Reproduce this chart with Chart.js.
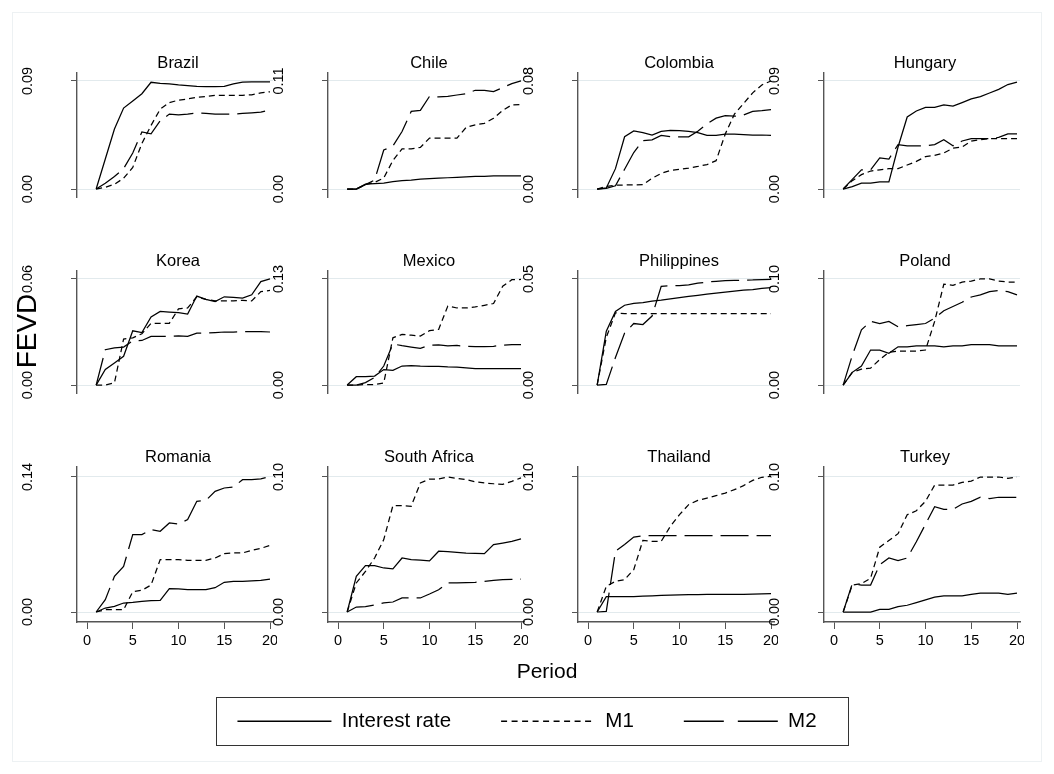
<!DOCTYPE html>
<html>
<head>
<meta charset="utf-8">
<script src="https://cdn.jsdelivr.net/npm/chart.js@4.4.0/dist/chart.umd.min.js"></script>
<style>
  html, body { margin: 0; padding: 0; background: #fff; }
  #wrap { position: relative; width: 1054px; height: 774px; overflow: hidden; background: #fff; }
  #wrap canvas { position: absolute; }
</style>
</head>
<body>
<div id="wrap"></div>
<script>
// ---- data -------------------------------------------------------------
const periods = [1, 2, 3, 4, 5, 6, 7, 8, 9, 10, 11, 12, 13, 14, 15, 16, 17, 18, 19, 20];
const countries = ['Brazil', 'Chile', 'Colombia', 'Hungary',
                   'Korea', 'Mexico', 'Philippines', 'Poland',
                   'Romania', 'South Africa', 'Thailand', 'Turkey'];
// upper labelled tick of each panel's y axis
const yTopTick = [0.09, 0.11, 0.08, 0.09, 0.06, 0.13, 0.05, 0.10, 0.14, 0.10, 0.10, 0.10];
const xTicks = [0, 5, 10, 15, 20];
const seriesNames = ['Interest rate', 'M1', 'M2'];

// share of forecast error variance explained by the interest rate
const interestRate = [
  [0, 0.025, 0.050, 0.0674, 0.0734, 0.0794, 0.0889, 0.0880, 0.0875, 0.0867, 0.0862, 0.0855, 0.0852, 0.0853, 0.0855, 0.0875, 0.0890, 0.0893, 0.0893, 0.0893], // Brazil
  [0, 0, 0.005, 0.0055, 0.006, 0.0075, 0.0085, 0.009, 0.010, 0.0105, 0.011, 0.0115, 0.012, 0.0125, 0.013, 0.013, 0.0135, 0.0135, 0.0135, 0.0135],             // Chile
  [0, 0.0008, 0.0151, 0.0387, 0.043, 0.0417, 0.040, 0.0427, 0.0434, 0.0432, 0.0427, 0.0417, 0.0397, 0.0397, 0.0407, 0.0407, 0.0403, 0.040, 0.040, 0.0397], // Colombia
  [0, 0.002, 0.005, 0.005, 0.006, 0.006, 0.035, 0.060, 0.065, 0.068, 0.068, 0.070, 0.069, 0.072, 0.075, 0.077, 0.080, 0.083, 0.087, 0.089],                // Hungary
  [0, 0.0088, 0.0125, 0.0163, 0.0307, 0.0297, 0.0385, 0.0416, 0.0412, 0.0409, 0.0401, 0.0503, 0.0484, 0.0472, 0.0499, 0.0496, 0.0492, 0.051, 0.0585, 0.060], // Korea
  [0, 0.0103, 0.0103, 0.011, 0.019, 0.018, 0.0233, 0.0239, 0.0233, 0.023, 0.023, 0.0223, 0.022, 0.021, 0.020, 0.020, 0.020, 0.0203, 0.0203, 0.0203],        // Mexico
  [0, 0.0254, 0.0347, 0.0376, 0.0385, 0.0388, 0.0395, 0.040, 0.0406, 0.0412, 0.0418, 0.0423, 0.0428, 0.0433, 0.0438, 0.0443, 0.0447, 0.045, 0.0455, 0.0459], // Philippines
  [0, 0.012, 0.018, 0.033, 0.033, 0.030, 0.036, 0.036, 0.037, 0.037, 0.037, 0.036, 0.037, 0.037, 0.038, 0.038, 0.038, 0.037, 0.037, 0.037],                // Poland
  [0, 0.0041, 0.0059, 0.0093, 0.010, 0.011, 0.0118, 0.0121, 0.0242, 0.0239, 0.0232, 0.0232, 0.0232, 0.0252, 0.0308, 0.0318, 0.0318, 0.0322, 0.0327, 0.0342], // Romania
  [0, 0.0264, 0.0343, 0.0343, 0.0326, 0.0319, 0.040, 0.0388, 0.0385, 0.0378, 0.045, 0.0447, 0.0442, 0.0437, 0.0435, 0.0432, 0.0499, 0.0511, 0.0523, 0.0541], // South Africa
  [0, 0.0113, 0.0113, 0.0113, 0.0113, 0.0118, 0.012, 0.0123, 0.0125, 0.0127, 0.0128, 0.0128, 0.013, 0.013, 0.013, 0.013, 0.013, 0.0133, 0.0135, 0.0136],   // Thailand
  [0, 0, 0, 0, 0.002, 0.002, 0.004, 0.005, 0.007, 0.009, 0.011, 0.012, 0.012, 0.012, 0.013, 0.014, 0.014, 0.014, 0.013, 0.014]                             // Turkey
];

// share explained by narrow money
const m1Share = [
  [0, 0.0015, 0.004, 0.009, 0.018, 0.038, 0.053, 0.0665, 0.072, 0.074, 0.075, 0.0765, 0.077, 0.078, 0.078, 0.078, 0.078, 0.0785, 0.080, 0.081],
  [0, 0, 0.0045, 0.0068, 0.0113, 0.029, 0.041, 0.041, 0.0424, 0.0519, 0.0519, 0.0519, 0.0519, 0.0627, 0.0654, 0.0668, 0.072, 0.080, 0.0857, 0.086],
  [0, 0.002, 0.0028, 0.003, 0.003, 0.0033, 0.0079, 0.0116, 0.0138, 0.0147, 0.0155, 0.0167, 0.0181, 0.021, 0.0407, 0.0554, 0.0633, 0.0712, 0.077, 0.080],
  [0, 0.007, 0.012, 0.015, 0.016, 0.017, 0.017, 0.020, 0.023, 0.027, 0.028, 0.030, 0.034, 0.035, 0.040, 0.041, 0.042, 0.042, 0.042, 0.042],
  [0, 0, 0.0013, 0.026, 0.0267, 0.029, 0.0349, 0.0349, 0.0349, 0.0431, 0.0436, 0.0499, 0.0484, 0.0476, 0.0476, 0.0476, 0.0479, 0.0476, 0.0528, 0.0535],
  [0, 0, 0.0006, 0.0006, 0.0026, 0.0579, 0.062, 0.0611, 0.060, 0.0666, 0.0682, 0.0967, 0.0944, 0.0944, 0.0957, 0.0977, 0.0999, 0.121, 0.129, 0.1293],
  [0, 0.0225, 0.034, 0.0337, 0.0337, 0.0337, 0.0337, 0.0337, 0.0337, 0.0337, 0.0337, 0.0337, 0.0337, 0.0337, 0.0337, 0.0337, 0.0337, 0.0337, 0.0337, 0.0337],
  [0, 0.012, 0.015, 0.016, 0.024, 0.031, 0.032, 0.032, 0.032, 0.033, 0.060, 0.095, 0.094, 0.097, 0.098, 0.100, 0.100, 0.098, 0.097, 0.097],
  [0, 0.0024, 0.0024, 0.0024, 0.021, 0.0225, 0.028, 0.0543, 0.0543, 0.0543, 0.0536, 0.0536, 0.0536, 0.056, 0.0605, 0.0612, 0.0612, 0.064, 0.066, 0.069],
  [0, 0.0215, 0.030, 0.040, 0.0536, 0.0788, 0.0788, 0.0783, 0.0956, 0.0985, 0.0985, 0.100, 0.099, 0.098, 0.0965, 0.0956, 0.095, 0.0946, 0.0968, 0.0993],
  [0, 0.019, 0.0227, 0.024, 0.0314, 0.0531, 0.0523, 0.0523, 0.0635, 0.0721, 0.0795, 0.0827, 0.0844, 0.0862, 0.0881, 0.0906, 0.0936, 0.0975, 0.0998, 0.1005],
  [0, 0.020, 0.021, 0.025, 0.048, 0.053, 0.058, 0.072, 0.075, 0.082, 0.094, 0.094, 0.094, 0.096, 0.097, 0.100, 0.100, 0.100, 0.099, 0.100]
];

// share explained by broad money
const m2Share = [
  [0, 0.0049, 0.0104, 0.017, 0.030, 0.0475, 0.046, 0.0568, 0.0624, 0.0617, 0.0624, 0.0635, 0.063, 0.0624, 0.0624, 0.0624, 0.063, 0.0635, 0.064, 0.066],
  [0, 0, 0.0045, 0.0091, 0.0397, 0.0438, 0.0586, 0.079, 0.080, 0.0943, 0.0938, 0.0943, 0.0957, 0.097, 0.1005, 0.1005, 0.0992, 0.1032, 0.1073, 0.110],
  [0, 0.0005, 0.0024, 0.0147, 0.027, 0.0358, 0.0364, 0.0397, 0.0387, 0.0387, 0.0387, 0.0427, 0.0482, 0.0525, 0.0544, 0.0539, 0.0548, 0.0574, 0.058, 0.0588],
  [0, 0.008, 0.016, 0.016, 0.026, 0.025, 0.037, 0.036, 0.036, 0.036, 0.037, 0.041, 0.036, 0.040, 0.042, 0.042, 0.042, 0.043, 0.046, 0.046],
  [0, 0.020, 0.021, 0.0215, 0.025, 0.0252, 0.0275, 0.0275, 0.0275, 0.0278, 0.0275, 0.0293, 0.0293, 0.0297, 0.030, 0.030, 0.0302, 0.0302, 0.0302, 0.030],
  [0, 0, 0.003, 0.0094, 0.0233, 0.0504, 0.0482, 0.0466, 0.045, 0.0488, 0.0492, 0.048, 0.0485, 0.0475, 0.047, 0.047, 0.0475, 0.049, 0.0495, 0.0495],
  [0, 0.0003, 0.013, 0.0245, 0.029, 0.0285, 0.0325, 0.0465, 0.0468, 0.0469, 0.0472, 0.048, 0.0485, 0.0489, 0.0492, 0.0493, 0.0494, 0.0495, 0.0497, 0.0498],
  [0, 0.028, 0.052, 0.060, 0.058, 0.060, 0.055, 0.056, 0.057, 0.058, 0.063, 0.070, 0.074, 0.078, 0.083, 0.085, 0.088, 0.089, 0.088, 0.085],
  [0, 0.0128, 0.037, 0.0473, 0.0802, 0.0802, 0.0854, 0.0837, 0.0923, 0.0913, 0.0958, 0.1148, 0.1158, 0.1251, 0.1286, 0.1296, 0.1372, 0.1372, 0.138, 0.1407],
  [0, 0.0037, 0.004, 0.0052, 0.0067, 0.0074, 0.0104, 0.0104, 0.0104, 0.0133, 0.0165, 0.0215, 0.0215, 0.0217, 0.022, 0.0227, 0.0235, 0.024, 0.0242, 0.0244],
  [0, 0.0005, 0.045, 0.050, 0.0555, 0.0565, 0.0565, 0.0565, 0.0565, 0.0565, 0.0565, 0.0565, 0.0565, 0.0565, 0.0565, 0.0565, 0.0565, 0.0565, 0.0565, 0.0565],
  [0, 0.021, 0.020, 0.020, 0.035, 0.040, 0.038, 0.040, 0.052, 0.065, 0.078, 0.076, 0.076, 0.080, 0.082, 0.085, 0.084, 0.085, 0.085, 0.085]
];

// ---- layout and style --------------------------------------------------
const FONT = '"Liberation Sans", Arial, Helvetica, sans-serif';
const INK = '#000000';
const AXIS = '#555555';
const GRID = '#e2eaed';
const seriesDash = [[], [6, 4], [28, 8]];     // dash patterns in the panels
const legendDash = [[], [6, 4.5], [40, 14]];  // same patterns, stretched for the key
const seriesData = [interestRate, m1Share, m2Share];

const colLeft = [77, 328, 578, 824];   // left edge of each column's plot region
const rowTopTick = [83, 281, 477];     // pixel row of the upper y tick
const rowZero = [219, 415, 612];       // pixel row of zero
const PX_PER_PERIOD = 9.15;
const PLOT_W = 196, AXIS_W = 62, TITLE_H = 24, PAD_R = 4, XAXIS_H = 32;

Chart.defaults.font.family = FONT;
Chart.defaults.color = INK;

const wrap = document.getElementById('wrap');
function addCanvas(left, top, w, h) {
  const cv = document.createElement('canvas');
  cv.width = w; cv.height = h;
  cv.style.left = left + 'px'; cv.style.top = top + 'px';
  cv.style.width = w + 'px'; cv.style.height = h + 'px';
  wrap.appendChild(cv);
  return cv;
}

// ---- shared frame with the axis titles ---------------------------------
const outerFrame = {
  id: 'outerFrame',
  beforeDraw(chart) {
    const ctx = chart.ctx;
    ctx.save();
    ctx.strokeStyle = '#edf1f3';
    ctx.lineWidth = 1;
    ctx.strokeRect(12.5, 12.5, chart.width - 25, chart.height - 25);
    ctx.restore();
  }
};

new Chart(addCanvas(0, 0, 1054, 774), {
  type: 'scatter',
  data: { datasets: [] },
  options: {
    responsive: false, animation: false, devicePixelRatio: 1,
    layout: { padding: { top: 40, right: 37, bottom: 0, left: 0 } },
    plugins: { legend: { display: false }, tooltip: { enabled: false } },
    scales: {
      x: {
        type: 'linear', min: 0, max: 1,
        ticks: { display: false }, grid: { display: false }, border: { display: false },
        title: { display: true, text: 'Period', color: INK, font: { size: 21 }, padding: { top: 0, bottom: 89 } },
        afterFit: s => { s.height = 774 - 622; }
      },
      y: {
        type: 'linear', min: 0, max: 1,
        ticks: { display: false }, grid: { display: false }, border: { display: false },
        title: { display: true, text: 'FEVD', color: INK, font: { size: 28 }, padding: { top: 11, bottom: 0 } },
        afterFit: s => { s.width = 77; }
      }
    }
  },
  plugins: [outerFrame]
});

// ---- one small panel per country ---------------------------------------
const shiftTitle = {
  id: 'shiftTitle',
  afterLayout(chart) {
    if (chart.titleBlock) { chart.titleBlock.left += 3; chart.titleBlock.right += 3; }
  }
};

countries.forEach((name, i) => {
  const r = Math.floor(i / 4), c = i % 4;
  const span = rowZero[r] - rowTopTick[r];
  const plotTop = rowTopTick[r] - 10, plotBottom = rowZero[r] + 10;
  const top = yTopTick[i];
  const margin = 10 / span * top;
  const bottomRow = r === 2;
  const h = TITLE_H + (plotBottom - plotTop) + (bottomRow ? XAXIS_H : 0);
  const cv = addCanvas(colLeft[c] - AXIS_W, plotTop - TITLE_H, AXIS_W + PLOT_W + PAD_R, h);

  new Chart(cv, {
    type: 'line',
    data: {
      datasets: seriesData.map((s, k) => ({
        label: seriesNames[k],
        data: periods.map((t, j) => ({ x: t, y: s[i][j] })),
        borderColor: INK, borderWidth: 1.25, borderDash: seriesDash[k],
        pointRadius: 0, tension: 0, fill: false
      }))
    },
    options: {
      responsive: false, animation: false, devicePixelRatio: 1,
      layout: { padding: { left: 0, right: PAD_R, top: 0, bottom: 0 } },
      plugins: {
        legend: { display: false }, tooltip: { enabled: false },
        title: {
          display: true, text: name, color: INK, fullSize: false,
          font: { size: 16.5, weight: 'normal', lineHeight: 1.2 },
          padding: { top: TITLE_H - 19.8, bottom: 0 }
        }
      },
      scales: {
        x: {
          type: 'linear', display: bottomRow,
          min: -10 / PX_PER_PERIOD, max: (PLOT_W - 10) / PX_PER_PERIOD,
          afterBuildTicks: s => { s.ticks = xTicks.map(v => ({ value: v })); },
          afterFit: s => { s.height = XAXIS_H; s.paddingLeft = 0; s.paddingRight = 0; },
          ticks: { callback: v => String(v), minRotation: 0, maxRotation: 0, autoSkip: false,
                   padding: 3, color: INK, font: { size: 14.5 } },
          grid: { drawOnChartArea: false, drawTicks: true, tickLength: 7, color: AXIS, tickColor: AXIS },
          border: { display: true, color: AXIS, width: 1.4 }
        },
        y: {
          min: -margin, max: top + margin,
          afterBuildTicks: s => { s.ticks = [{ value: 0 }, { value: top }]; },
          afterFit: s => { s.width = AXIS_W; s.paddingTop = 0; s.paddingBottom = 0; },
          ticks: { callback: v => v.toFixed(2), minRotation: 90, maxRotation: 90, crossAlign: 'center',
                   autoSkip: false, padding: 29, color: INK, font: { size: 14.5 } },
          grid: { color: GRID, lineWidth: 1, tickColor: AXIS, tickLength: 6, drawTicks: true },
          border: { display: true, color: AXIS, width: 1.4 }
        }
      }
    },
    plugins: [shiftTitle]
  });
});

// ---- legend ------------------------------------------------------------
const legendFrame = {
  id: 'legendFrame',
  afterDraw(chart) {
    const hb = chart.legend.legendHitBoxes;
    if (!hb || !hb.length) return;
    const left = Math.min(...hb.map(b => b.left)) - 21;
    const right = Math.max(...hb.map(b => b.left + b.width)) + 32;
    const mid = hb[0].top + hb[0].height / 2;
    const ctx = chart.ctx;
    ctx.save();
    ctx.strokeStyle = '#333';
    ctx.lineWidth = 1;
    ctx.strokeRect(Math.round(left) + 0.5, Math.round(mid - 24) + 0.5, Math.round(right - left), 48);
    ctx.restore();
  }
};

const LEGEND_FONT = 20.5, LEGEND_PAD = 50;
new Chart(addCanvas(0, 721 - LEGEND_PAD - LEGEND_FONT / 2, 1054, 170), {
  type: 'line',
  data: {
    datasets: seriesNames.map((n, k) => ({
      label: n, data: [], borderColor: INK, backgroundColor: 'rgba(0,0,0,0)',
      borderWidth: 1.4, borderDash: seriesDash[k], pointRadius: 0
    }))
  },
  options: {
    responsive: false, animation: false, devicePixelRatio: 1,
    plugins: {
      tooltip: { enabled: false },
      legend: {
        position: 'top',
        labels: {
          usePointStyle: true, pointStyle: 'line', pointStyleWidth: 94,
          padding: LEGEND_PAD, color: INK, font: { size: LEGEND_FONT },
          // keep each series' dash pattern on its legend sample
          generateLabels: chart => Chart.defaults.plugins.legend.labels.generateLabels(chart)
            .map((item, k) => Object.assign(item, {
              lineDash: legendDash[k], lineWidth: 1.4, strokeStyle: INK, fillStyle: 'rgba(0,0,0,0)'
            }))
        }
      }
    },
    scales: { x: { display: false }, y: { display: false } }
  },
  plugins: [legendFrame]
});
</script>
</body>
</html>
